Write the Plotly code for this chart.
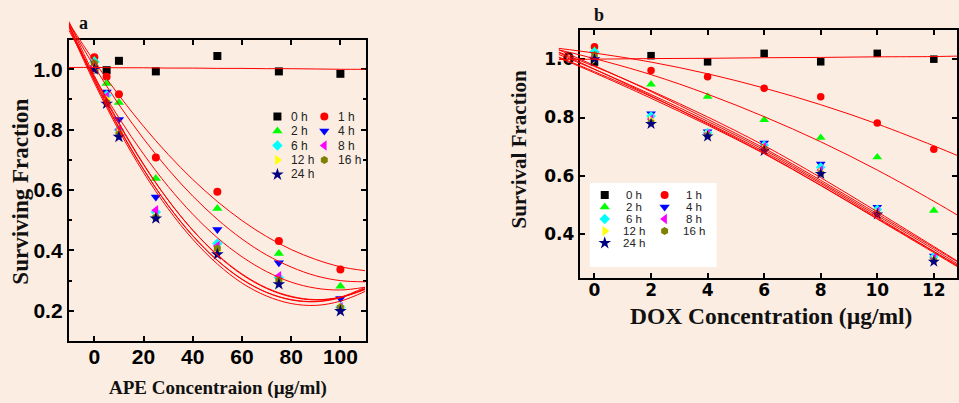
import plotly.graph_objects as go

W, H = 959, 403
BG = '#FBEDE2'

# ---------------- series definitions ----------------
series = ['0 h', '1 h', '2 h', '4 h', '6 h', '8 h', '12 h', '16 h', '24 h']
colors = ['#000000', '#FF0000', '#00FF00', '#0000FF', '#00FFFF', '#FF00FF', '#FFFF00', '#808000', '#000080']
symbols = ['square', 'circle', 'triangle-up', 'triangle-down', 'diamond', 'triangle-left',
           'triangle-right', 'hexagon', 'star']

# ---------------- panel a : APE ----------------
ape_conc = [0, 5, 10, 25, 50, 75, 100]
ape_0h = [1.000, 0.997, 1.028, 0.993, 1.044, 0.993, 0.985]
ape_1h = [1.040, 0.975, 0.917, 0.708, 0.594, 0.431, 0.337]
ape_2h = [1.030, 0.953, 0.890, 0.638, 0.539, 0.390, 0.281]
ape_4h = [1.000, 0.925, 0.834, 0.577, 0.469, 0.359, 0.241]
ape_6h = [1.025, 0.914, 0.800, 0.527, 0.423, 0.310, 0.212]
ape_8h = [1.010, 0.910, 0.800, 0.533, 0.415, 0.315, 0.212]
ape_12h = [1.000, 0.900, 0.790, 0.510, 0.400, 0.300, 0.210]
ape_16h = [1.020, 0.890, 0.785, 0.510, 0.406, 0.301, 0.211]
ape_24h = [1.000, 0.886, 0.776, 0.506, 0.387, 0.288, 0.199]

# fitted curves
ape_fit_x = [-10.3, 0, 10, 20, 30, 40, 50, 60, 70, 80, 90, 100, 110]
ape_fit_0h = [1.006, 1.006, 1.005, 1.005, 1.004, 1.004, 1.003, 1.003, 1.002, 1.002, 1.001, 1.000, 1.000]
ape_fit_1h = [1.153, 1.026, 0.914, 0.811, 0.718, 0.635, 0.562, 0.499, 0.446, 0.403, 0.370, 0.346, 0.333]
ape_fit_2h = [1.151, 1.009, 0.883, 0.770, 0.669, 0.580, 0.503, 0.438, 0.385, 0.345, 0.316, 0.300, 0.296]
ape_fit_4h = [1.129, 0.975, 0.839, 0.719, 0.612, 0.520, 0.442, 0.379, 0.330, 0.295, 0.275, 0.269, 0.278]
ape_fit_6h = [1.158, 0.979, 0.823, 0.686, 0.567, 0.467, 0.384, 0.320, 0.274, 0.246, 0.236, 0.245, 0.272]
ape_fit_8h = [1.147, 0.971, 0.819, 0.684, 0.567, 0.467, 0.386, 0.322, 0.276, 0.248, 0.237, 0.245, 0.270]
ape_fit_12h = [1.143, 0.962, 0.805, 0.668, 0.549, 0.448, 0.367, 0.304, 0.261, 0.236, 0.230, 0.243, 0.274]
ape_fit_16h = [1.148, 0.965, 0.808, 0.669, 0.549, 0.449, 0.367, 0.305, 0.261, 0.237, 0.231, 0.245, 0.278]
ape_fit_24h = [1.138, 0.955, 0.797, 0.658, 0.538, 0.437, 0.355, 0.292, 0.249, 0.224, 0.218, 0.232, 0.264]

ape_xticks = [0, 20, 40, 60, 80, 100]
ape_yticks = [0.2, 0.4, 0.6, 0.8, 1.0]
ape_yticklabels = ['0.2', '0.4', '0.6', '0.8', '1.0']

# ---------------- panel b : DOX ----------------
dox_conc = [0, 2, 4, 6, 8, 10, 12]
dox_0h = [0.990, 1.012, 0.991, 1.020, 0.991, 1.020, 1.000]
dox_1h = [1.043, 0.961, 0.940, 0.900, 0.871, 0.781, 0.691]
dox_2h = [1.030, 0.914, 0.872, 0.792, 0.731, 0.664, 0.481]
dox_4h = [1.020, 0.813, 0.752, 0.713, 0.641, 0.493, 0.326]
dox_6h = [1.025, 0.805, 0.748, 0.705, 0.630, 0.485, 0.322]
dox_8h = [1.010, 0.795, 0.745, 0.700, 0.620, 0.478, 0.318]
dox_12h = [1.000, 0.790, 0.740, 0.695, 0.612, 0.472, 0.312]
dox_16h = [1.015, 0.783, 0.738, 0.690, 0.609, 0.470, 0.310]
dox_24h = [1.000, 0.778, 0.735, 0.686, 0.607, 0.468, 0.306]

dox_fit_x = [-1.26, 0, 2, 4, 6, 8, 10, 12, 13]
dox_fit_0h = [0.999, 1.000, 1.002, 1.003, 1.005, 1.006, 1.008, 1.009, 1.011]
dox_fit_1h = [1.037, 1.021, 0.990, 0.950, 0.901, 0.844, 0.778, 0.703, 0.663]
dox_fit_2h = [1.032, 1.002, 0.947, 0.880, 0.803, 0.717, 0.620, 0.513, 0.456]
dox_fit_4h = [1.024, 0.975, 0.892, 0.802, 0.704, 0.594, 0.477, 0.358, 0.298]
dox_fit_6h = [1.032, 0.978, 0.889, 0.794, 0.695, 0.585, 0.470, 0.354, 0.296]
dox_fit_8h = [1.016, 0.965, 0.879, 0.787, 0.689, 0.579, 0.464, 0.348, 0.289]
dox_fit_12h = [1.007, 0.957, 0.872, 0.781, 0.683, 0.574, 0.458, 0.341, 0.281]
dox_fit_16h = [1.022, 0.966, 0.874, 0.778, 0.678, 0.568, 0.454, 0.341, 0.285]
dox_fit_24h = [1.005, 0.953, 0.866, 0.774, 0.676, 0.567, 0.452, 0.337, 0.279]

dox_xticks = [0, 2, 4, 6, 8, 10, 12]
dox_yticks = [0.4, 0.6, 0.8, 1.0]
dox_yticklabels = ['0.4', '0.6', '0.8', '1.0']

ape_points = [ape_0h, ape_1h, ape_2h, ape_4h, ape_6h, ape_8h, ape_12h, ape_16h, ape_24h]
ape_fits = [ape_fit_0h, ape_fit_1h, ape_fit_2h, ape_fit_4h, ape_fit_6h, ape_fit_8h,
            ape_fit_12h, ape_fit_16h, ape_fit_24h]
dox_points = [dox_0h, dox_1h, dox_2h, dox_4h, dox_6h, dox_8h, dox_12h, dox_16h, dox_24h]
dox_fits = [dox_fit_0h, dox_fit_1h, dox_fit_2h, dox_fit_4h, dox_fit_6h, dox_fit_8h,
            dox_fit_12h, dox_fit_16h, dox_fit_24h]

# ---------------- layout geometry (pixels) ----------------
A_L, A_R, A_T, A_B = 69, 367, 40, 341
B_L, B_R, B_T, B_B = 581, 959, 30, 278
A_XR = [-10.35, 110.5]
A_YR = [0.1, 1.097]
B_XR = [-0.52, 12.82]
B_YR = [0.25, 1.1]
A_CURVE_TOP = 15      # curves overflow above the frame in panel a
B_CURVE_LEFT = 555    # curves overflow left of the frame in panel b


def dx(p0, p1):
    return [p0 / W, p1 / W]


def dy(top, bottom):
    return [1 - bottom / H, 1 - top / H]


def msize(sym, base):
    if sym == 'star':
        return base + 1.5
    if sym.startswith('triangle'):
        return base + 1
    return base


a_yscale = (A_YR[1] - A_YR[0]) / (A_B - A_T)
a_curve_yr = [A_YR[0], A_YR[0] + (A_B - A_CURVE_TOP) * a_yscale]
b_xscale = (B_XR[1] - B_XR[0]) / (B_R - B_L)
b_curve_xr = [B_XR[0] - (B_L - B_CURVE_LEFT) * b_xscale, B_XR[1]]

fig = go.Figure()

# markers panel a (x, y)
for name, vals, col, sym in zip(series, ape_points, colors, symbols):
    fig.add_trace(go.Scatter(x=ape_conc, y=vals, mode='markers', name=name, showlegend=False,
                             marker=dict(symbol=sym, color=col, size=msize(sym, 8), line=dict(width=0)),
                             xaxis='x', yaxis='y', cliponaxis=False))
# markers panel b (x2, y2)
for name, vals, col, sym in zip(series, dox_points, colors, symbols):
    fig.add_trace(go.Scatter(x=dox_conc, y=vals, mode='markers', name=name, showlegend=False,
                             marker=dict(symbol=sym, color=col, size=msize(sym, 7.5), line=dict(width=0)),
                             xaxis='x2', yaxis='y2', cliponaxis=False))
# fit curves panel a (x3, y3)
for name, vals in zip(series, ape_fits):
    fig.add_trace(go.Scatter(x=ape_fit_x, y=vals, mode='lines', name=name + ' fit', showlegend=False,
                             line=dict(color='#FF0000', width=1.0, shape='spline', smoothing=1.0),
                             xaxis='x3', yaxis='y3'))
# fit curves panel b (x4, y4)
for name, vals in zip(series, dox_fits):
    fig.add_trace(go.Scatter(x=dox_fit_x, y=vals, mode='lines', name=name + ' fit', showlegend=False,
                             line=dict(color='#FF0000', width=1.0, shape='spline', smoothing=1.0),
                             xaxis='x4', yaxis='y4'))

# ---------------- custom legends (pixel axis x5/y5) ----------------
annotations = []
A_LEG_X0, A_LEG_DX, A_LEG_Y0, A_LEG_DY = 278, 47, 116.5, 14.5
B_LEG_X0, B_LEG_DX, B_LEG_Y0, B_LEG_DY = 606, 60, 195, 12
for i, (name, col, sym) in enumerate(zip(series, colors, symbols)):
    r, c = divmod(i, 2)
    ax_ = A_LEG_X0 + c * A_LEG_DX
    ay_ = A_LEG_Y0 + r * A_LEG_DY
    bx_ = B_LEG_X0 + c * B_LEG_DX
    by_ = B_LEG_Y0 + r * B_LEG_DY
    fig.add_trace(go.Scatter(x=[ax_, bx_], y=[ay_, by_], mode='markers', showlegend=False,
                             marker=dict(symbol=sym, color=col, size=msize(sym, 8), line=dict(width=0)),
                             xaxis='x5', yaxis='y5', hoverinfo='skip'))
    annotations.append(dict(x=(ax_ + 12) / W, y=1 - ay_ / H, xref='paper', yref='paper',
                            text=name, showarrow=False, xanchor='left', yanchor='middle',
                            font=dict(family='Liberation Sans, Arial', size=12, color='#222222')))
    annotations.append(dict(x=(bx_ + 29) / W, y=1 - by_ / H, xref='paper', yref='paper',
                            text=name, showarrow=False, xanchor='center', yanchor='middle',
                            font=dict(family='Liberation Sans, Arial', size=11.5, color='#222222')))

# ---------------- titles ----------------
SERIF = 'Liberation Serif, Times New Roman, serif'
title_specs = [
    ('a', 83.7, 23, 18, 0),
    ('b', 600, 15, 18, 0),
    ('APE Concentraion (µg/ml)', 218.5, 388, 19, 0),
    ('Surviving Fraction', 21, 191.7, 23, -90),
    ('DOX Concentration (µg/ml)', 773, 316, 23.5, 0),
    ('Survival Fraction', 520, 149.5, 21, -90),
]
for txt, px, py, fs, ang in title_specs:
    annotations.append(dict(x=px / W, y=1 - py / H, xref='paper', yref='paper', text='<b>%s</b>' % txt,
                            showarrow=False, xanchor='center', yanchor='middle', textangle=ang,
                            font=dict(family=SERIF, size=fs, color='#111111')))

NARROW = 'Liberation Sans Narrow, Arial Narrow, Liberation Sans, Arial'
common_axis = dict(showgrid=False, zeroline=False, showline=True, linecolor='black', linewidth=2,
                   ticks='inside', tickcolor='black', tickwidth=2, ticklen=5)

fig.update_layout(
    width=W, height=H,
    margin=dict(l=0, r=0, t=0, b=0),
    paper_bgcolor=BG, plot_bgcolor='rgba(0,0,0,0)',
    showlegend=False,
    xaxis=dict(domain=dx(A_L, A_R), range=A_XR, anchor='y', tickvals=ape_xticks, mirror='ticks',
               ticklabelstandoff=-4,
               tickfont=dict(family=NARROW, size=21, color='black', weight='bold'), **common_axis),
    yaxis=dict(domain=dy(A_T, A_B), range=A_YR, anchor='x', tickvals=ape_yticks,
               ticktext=ape_yticklabels, mirror='ticks',
               minor=dict(dtick=0.1, tick0=0.1, ticks='inside', ticklen=3, tickwidth=2, tickcolor='black'),
               tickfont=dict(family=NARROW, size=21, color='black', weight='bold'), **common_axis),
    xaxis2=dict(domain=dx(B_L, B_R), range=B_XR, anchor='y2', tickvals=dox_xticks, mirror='ticks',
                ticklabelstandoff=-4,
                tickfont=dict(family='DejaVu Sans', size=17, color='black', weight='bold'), **common_axis),
    yaxis2=dict(domain=dy(B_T, B_B), range=B_YR, anchor='x2', tickvals=dox_yticks,
                ticktext=dox_yticklabels, mirror='ticks',
                tickfont=dict(family='DejaVu Sans', size=17, color='black', weight='bold'), **common_axis),
    xaxis3=dict(domain=dx(A_L, A_R), range=A_XR, anchor='y3', visible=False),
    yaxis3=dict(domain=dy(A_CURVE_TOP, A_B), range=a_curve_yr, anchor='x3', visible=False),
    xaxis4=dict(domain=dx(B_CURVE_LEFT, B_R), range=b_curve_xr, anchor='y4', visible=False),
    yaxis4=dict(domain=dy(B_T, B_B), range=B_YR, anchor='x4', visible=False),
    xaxis5=dict(domain=[0, 1], range=[0, W], anchor='y5', visible=False),
    yaxis5=dict(domain=[0, 1], range=[H, 0], anchor='x5', visible=False),
    annotations=annotations,
    shapes=[dict(type='rect', xref='paper', yref='paper', x0=591 / W, x1=718 / W,
                 y0=1 - 267 / H, y1=1 - 183 / H, fillcolor='white', line=dict(width=0), layer='below')],
)

fig.write_html('out.html', config={'displayModeBar': False},
               post_script="document.body.style.margin='0';document.body.style.overflow='hidden';")
